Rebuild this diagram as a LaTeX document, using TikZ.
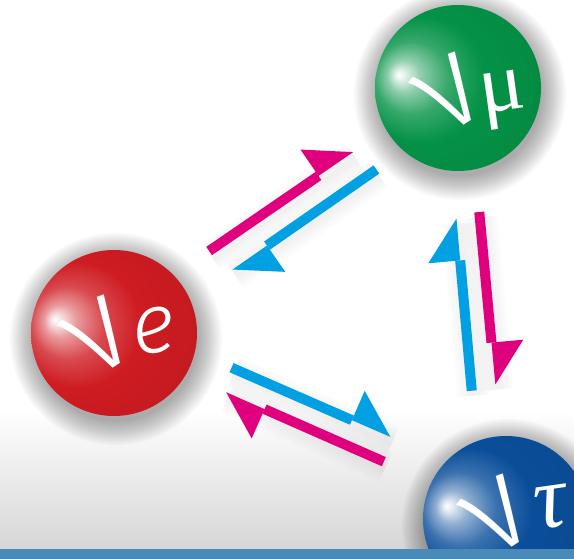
\documentclass[tikz,border=0pt]{standalone}
\usepackage{fontspec}
\usetikzlibrary{arrows.meta, backgrounds}
\newfontfamily\nufont{Fira Sans Light}
\newfontfamily\flavfont{Liberation Serif}
\definecolor{nured}{RGB}{206,28,34}
\definecolor{nugreen}{RGB}{4,146,70}
\definecolor{nublue}{RGB}{10,78,154}
\definecolor{oscmag}{RGB}{224,0,126}
\definecolor{osccyan}{RGB}{0,160,226}
\definecolor{stripblue}{RGB}{74,138,184}
\colorlet{sphc}{nured}
% highlight sits near the upper left rim of each ball
\pgfdeclareradialshading[sphc]{nusphere}{\pgfpoint{-18bp}{4bp}}{%
  color(0bp)=(white); color(1.5bp)=(sphc!12!white); color(5bp)=(sphc!45!white);
  color(11bp)=(sphc!80!white); color(19bp)=(sphc); color(44bp)=(sphc!90!black);
  color(50bp)=(sphc!90!black)}

\begin{document}
\begin{tikzpicture}[x=1pt, y=-1pt,
        neutrino/.style={circle, minimum size=166pt, inner sep=0pt, outer sep=0pt, shading=nusphere},
        tint/.code={\colorlet{sphc}{#1}},
        nuglyph/.style={text=white, inner sep=0pt, font=\nufont\fontsize{128}{128}\selectfont, rotate=33},
        flavour/.style={text=white, inner sep=0pt, font=\fontsize{84}{84}\selectfont, rotate=8},
        harp/.style={line width=10pt, -{Triangle[left, length=42pt, width=64pt, line width=0pt]}},
        magharp/.style={harp, draw=oscmag},
        cyanharp/.style={harp, draw=osccyan},
        harpshade/.style={draw=black, draw opacity=0.009, transform canvas={xshift=2pt, yshift=-5pt}}
    ]
        \useasboundingbox (0,0) rectangle (574,559);

        % the three flavours
        \node[neutrino, tint=nured] (nue) at (114,333) {};
        \node[neutrino, tint=nugreen] (numu) at (458,88) {};
        \node[neutrino, tint=nublue] (nutau) at (506,519) {};

        \node[nuglyph] (nuesym) at ([xshift=-15pt, yshift=-4pt]nue.center) {ν};
        \node[flavour] (nueflav) at ([xshift=40pt, yshift=2pt]nue.center) {\nufont\itshape e};
        \node[nuglyph] (numusym) at ([xshift=-8pt, yshift=-6pt]numu.center) {ν};
        \node[flavour] (numuflav) at ([xshift=45pt, yshift=-12pt]numu.center) {\flavfont μ};
        \node[nuglyph] (nutausym) at ([xshift=-8pt, yshift=3pt]nutau.center) {ν};
        \node[flavour, font=\fontsize{90}{90}\selectfont] (nutauflav) at ([xshift=45pt, yshift=12pt]nutau.center) {\flavfont\itshape τ};

        % oscillation harpoons
        \draw[magharp, shorten <=43pt, shorten >=40pt] (nue.44) -- (numu.210);
        \draw[cyanharp, shorten <=33pt, shorten >=52pt] (numu.229) -- (nue.24);
        \draw[cyanharp, shorten <=51pt, shorten >=48pt] (nutau.111) -- (numu.266);
        \draw[magharp, shorten <=43pt, shorten >=52pt] (numu.282) -- (nutau.94);
        \draw[cyanharp, shorten <=40pt, shorten >=61pt] (nue.347) -- (nutau.136);
        \draw[magharp, shorten <=52pt, shorten >=44pt] (nutau.154) -- (nue.330);

        \fill[stripblue] (0,549) rectangle (574,559);

        \begin{scope}[on background layer]
            \fill[white] (0,0) rectangle (574,559);
            \shade[top color=white, bottom color=black!16] (0,410) rectangle (574,549);
            % soft shadows under the balls
            \foreach \ball in {nue,numu,nutau}
                \foreach \k in {1,...,18}
                    \fill[black, opacity=0.02] ([xshift=2pt, yshift=-6pt]\ball.center) circle (81+1.4*\k);
            % and under the harpoons
            \foreach \a/\b/\s/\t in {nue.44/numu.210/43/40, numu.229/nue.24/33/52,
                    nutau.111/numu.266/51/48, numu.282/nutau.94/43/52,
                    nue.347/nutau.136/40/61, nutau.154/nue.330/52/44}
                \foreach \w in {10,14,...,34}
                    \draw[harpshade, line width=\w pt, shorten <=\s pt, shorten >=\t pt] (\a) -- (\b);
        \end{scope}
    \end{tikzpicture}
\end{document}
